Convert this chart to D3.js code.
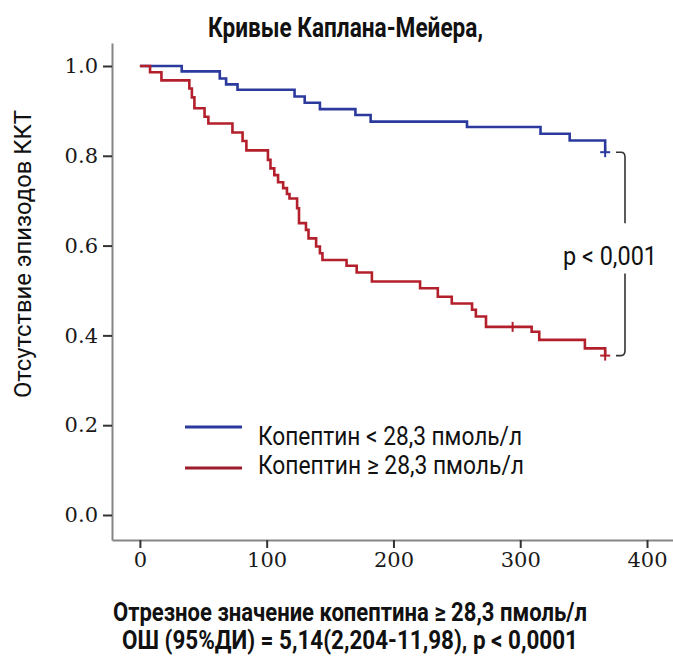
<!DOCTYPE html>
<html>
<head>
<meta charset="utf-8">
<script src="https://cdn.jsdelivr.net/npm/d3@7"></script>
<style>
  html, body { margin: 0; padding: 0; background: #fff; }
  svg { display: block; }
  .cond { font-family: Roboto, "Liberation Sans", sans-serif; }
</style>
</head>
<body>
<svg id="chart" width="673" height="659"></svg>
<script>
// Kaplan–Meier estimates, time in days
const blueDays = [0, 33, 63, 68, 77, 122, 130, 142, 170, 182, 258, 316, 339, 367];
const blueSurv = [1.0, 0.988, 0.972, 0.959, 0.947, 0.932, 0.918, 0.904, 0.891, 0.876, 0.864, 0.849, 0.834, 0.808];

const redDays = [0, 8, 17, 39, 41, 43, 51, 54, 73, 81, 84, 101, 103, 106, 109, 113, 116, 118,
                 124, 125.5, 131, 133, 139, 142, 144, 163, 171, 183, 221, 235, 246, 262, 265,
                 273, 309, 315, 351, 367];
const redSurv = [1.0, 0.986, 0.968, 0.950, 0.930, 0.906, 0.887, 0.872, 0.852, 0.833, 0.812, 0.791,
                 0.772, 0.757, 0.741, 0.728, 0.715, 0.705, 0.683, 0.650, 0.635, 0.616, 0.598,
                 0.583, 0.568, 0.555, 0.540, 0.520, 0.505, 0.486, 0.471, 0.457, 0.442, 0.419,
                 0.408, 0.390, 0.371, 0.355];

// censored observations (days)
const blueCensor = [367];
const redCensor = [294, 367];

const xTicks = [0, 100, 200, 300, 400];
const yTicks = [0.0, 0.2, 0.4, 0.6, 0.8, 1.0];

const seriesLabels = ["Копептин < 28,3 пмоль/л", "Копептин \u2265 28,3 пмоль/л"];
const titleText = "Кривые Каплана-Мейера,";
const yLabelText = "Отсутствие эпизодов ККТ";
const pText = "p < 0,001";
const footLines = ["Отрезное значение копептина \u2265 28,3 пмоль/л",
                   "ОШ (95%ДИ) = 5,14(2,204-11,98), p < 0,0001"];

const blueColor = "#2b3a9c";
const redColor = "#b41f2c";

const svg = d3.select("#chart");

const x = d3.scaleLinear().domain([-22, 420.5]).range([112, 673]);
const y = d3.scaleLinear().domain([-0.0557, 1.0512]).range([540, 43]);

// axes
const gx = svg.append("g").attr("transform", "translate(0,540)")
  .call(d3.axisBottom(x).tickValues(xTicks).tickFormat(d3.format("d"))
        .tickSize(8).tickPadding(4).tickSizeOuter(0));
const gy = svg.append("g").attr("transform", "translate(112,0)")
  .call(d3.axisLeft(y).tickValues(yTicks).tickFormat(d3.format(".1f"))
        .tickSize(9).tickPadding(5).tickSizeOuter(0));

[gx, gy].forEach(g => {
  g.select(".domain").attr("stroke", "#858585").attr("stroke-width", 2);
  g.selectAll(".tick line").attr("stroke", "#333").attr("stroke-width", 2);
  g.selectAll(".tick text")
    .attr("fill", "#1a1a1a")
    .style("font-family", "'DejaVu Serif', 'Liberation Serif', serif")
    .style("font-size", "21px");
});

// survival step curves
const line = d3.line()
  .x(d => x(d[0])).y(d => y(d[1]))
  .curve(d3.curveStepAfter);

function drawSeries(days, surv, censor, color) {
  const pts = days.map((d, i) => [d, surv[i]]);
  svg.append("path")
    .datum(pts)
    .attr("d", line)
    .attr("fill", "none")
    .attr("stroke", color)
    .attr("stroke-width", 2.6)
    .attr("stroke-linejoin", "miter");

  // censor marks
  const stepValue = t => {
    let v = surv[0];
    for (let i = 0; i < days.length; i++) if (days[i] <= t) v = surv[i];
    return v;
  };
  censor.forEach(t => {
    const cx = x(t), cy = y(stepValue(t));
    const isEnd = t >= days[days.length - 1];
    const g = svg.append("g").attr("stroke", color).attr("stroke-width", 2);
    g.append("line").attr("x1", cx).attr("x2", cx)
      .attr("y1", cy - 5).attr("y2", cy + 5);
    if (isEnd) {
      g.append("line").attr("x1", cx - 5).attr("x2", cx + 5)
        .attr("y1", cy).attr("y2", cy);
    }
  });
}

drawSeries(blueDays, blueSurv, blueCensor, blueColor);
drawSeries(redDays, redSurv, redCensor, redColor);

// bracket for the log-rank p value
const bx = 625;
const yTop = y(blueSurv[blueSurv.length - 1]);
const yBot = y(redSurv[redSurv.length - 1]);
const br = svg.append("g").attr("fill", "none").attr("stroke", "#333").attr("stroke-width", 1.6);
br.append("path").attr("d",
  `M${bx - 9},${yTop} L${bx - 4},${yTop} Q${bx},${yTop} ${bx},${yTop + 5} L${bx},${yTop + 71}`);
br.append("path").attr("d",
  `M${bx},${yBot - 82} L${bx},${yBot - 5} Q${bx},${yBot} ${bx - 4},${yBot} L${bx - 9},${yBot}`);

function condText(str, px, py, len, size, weight, anchor) {
  return svg.append("text")
    .attr("class", "cond")
    .attr("x", px).attr("y", py)
    .attr("text-anchor", anchor || "start")
    .attr("textLength", len)
    .attr("lengthAdjust", "spacingAndGlyphs")
    .style("font-size", size + "px")
    .style("font-weight", weight || 400)
    .attr("fill", "#111")
    .text(str);
}

condText(pText, 563, 265, 94, 26);

// legend
const legendColors = [blueColor, "#9e1b2b"];
const legendY = [427, 468];
const textY = [445, 474];
seriesLabels.forEach((lab, i) => {
  svg.append("line")
    .attr("x1", 185).attr("x2", 242)
    .attr("y1", legendY[i]).attr("y2", legendY[i])
    .attr("stroke", legendColors[i]).attr("stroke-width", 3);
  condText(lab, 258, textY[i], i === 0 ? 264 : 266, 26);
});

// title
condText(titleText, 208, 37, 275, 27, 700);

// y-axis title
svg.append("text")
  .attr("class", "cond")
  .attr("transform", "translate(31,254) rotate(-90)")
  .attr("text-anchor", "middle")
  .attr("textLength", 288)
  .attr("lengthAdjust", "spacingAndGlyphs")
  .style("font-size", "24px")
  .attr("fill", "#111")
  .text(yLabelText);

// footnote lines
condText(footLines[0], 350, 621, 474, 26, 700, "middle");
condText(footLines[1], 350, 649, 456, 26, 700, "middle");
</script>
</body>
</html>
